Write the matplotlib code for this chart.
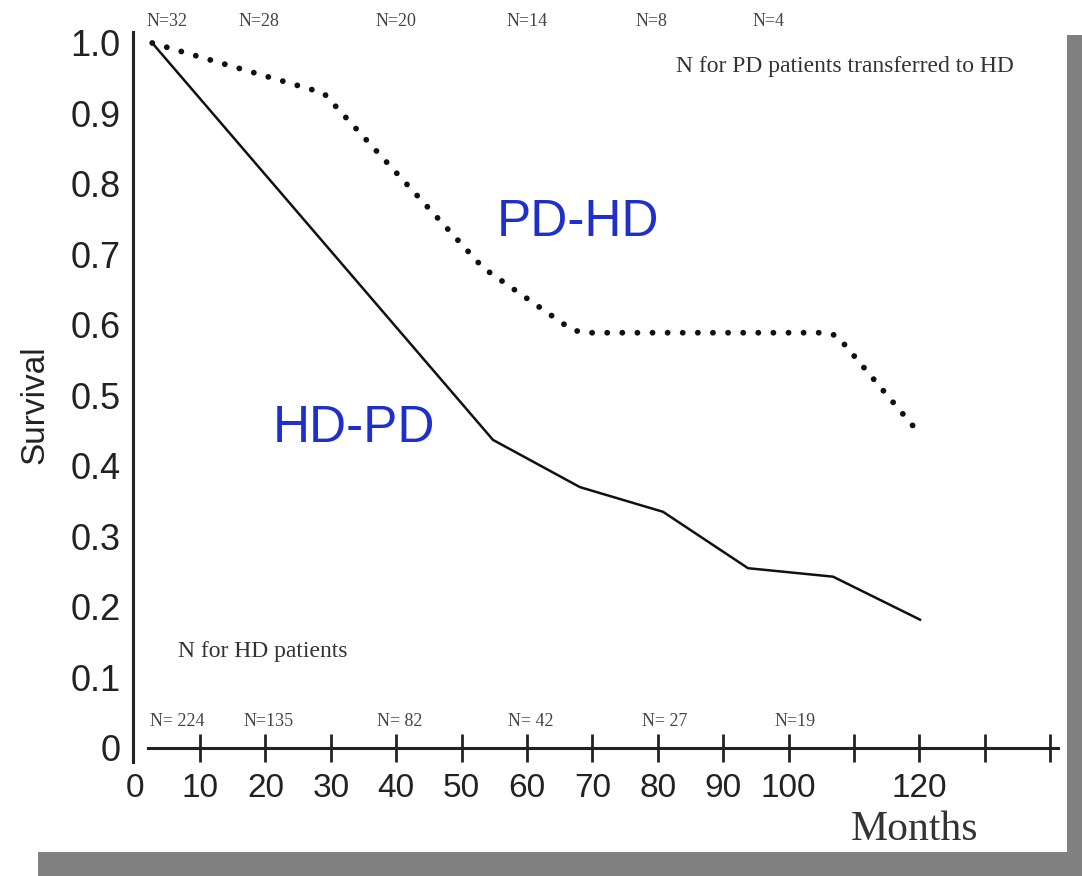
import matplotlib
matplotlib.use("Agg")
import matplotlib.pyplot as plt
from matplotlib.patches import Rectangle

# survival curves
months_hd = [2.7, 54.8, 68.1, 80.8, 93.8, 106.8, 120.1]
surv_hd = [1.0, 0.437, 0.370, 0.335, 0.255, 0.243, 0.182]

months_pd = [2.7, 28.9, 53.3, 66.9, 68.9, 105.3, 107.4, 119.1]
surv_pd = [1.0, 0.929, 0.681, 0.593, 0.589, 0.589, 0.585, 0.456]

# numbers at risk
n_pd_months = [5, 19, 40, 60, 79, 97]
n_pd_labels = ["N=32", "N=28", "N=20", "N=14", "N=8", "N=4"]
n_hd_months = [6.5, 20.5, 40.5, 60.5, 81, 101]
n_hd_labels = ["N= 224", "N=135", "N= 82", "N= 42", "N= 27", "N=19"]

x_ticks = [0, 10, 20, 30, 40, 50, 60, 70, 80, 90, 100, 110, 120, 130, 140]
x_ticklabels = ["0", "10", "20", "30", "40", "50", "60", "70", "80", "90", "100", "", "120", "", ""]
y_ticks = [0, 0.1, 0.2, 0.3, 0.4, 0.5, 0.6, 0.7, 0.8, 0.9, 1.0]
y_ticklabels = ["0", "0.1", "0.2", "0.3", "0.4", "0.5", "0.6", "0.7", "0.8", "0.9", "1.0"]

plt.rcParams["font.family"] = ["Liberation Sans", "DejaVu Sans"]
INK = "#222222"
BLUE = "#1f2fcc"
SERIF = ["Liberation Serif", "DejaVu Serif"]

W, H = 1082, 876
fig = plt.figure(figsize=(W / 100, H / 100), dpi=100, facecolor="white")

# grey drop shadow of the scanned panel
fig.add_artist(Rectangle((1067 / W, 0), 15 / W, 1 - 35 / H, transform=fig.transFigure,
                         facecolor="#808080", edgecolor="none"))
fig.add_artist(Rectangle((38 / W, 0), 1 - 38 / W, 24 / H, transform=fig.transFigure,
                         facecolor="#808080", edgecolor="none"))

ax = fig.add_axes([133 / W, 1 - 762 / H, 925 / W, 730 / H])
ax.set_xlim(-0.245, 141.2)
ax.set_ylim(-0.0199, 1.0156)
ax.patch.set_alpha(0)

ax.plot(months_hd, surv_hd, color="#111111", lw=1.8)
ax.plot(months_pd, surv_pd, color="#111111", lw=4.2,
        linestyle=(0, (0.01, 2.58)), dash_capstyle="round")

for s in ["top", "right"]:
    ax.spines[s].set_visible(False)
ax.spines["left"].set_linewidth(2.2)
ax.spines["left"].set_color(INK)
ax.spines["bottom"].set_position(("data", 0))
ax.spines["bottom"].set_bounds(2.0, 141.2)
ax.spines["bottom"].set_linewidth(2.2)
ax.spines["bottom"].set_color(INK)

ax.set_xticks(x_ticks)
ax.set_xticklabels(x_ticklabels)
ax.tick_params(axis="x", direction="inout", length=20, width=2, pad=8,
               labelsize=24, labelcolor=INK, color=INK)
ax.xaxis.get_major_ticks()[0].tick1line.set_visible(False)

ax.set_yticks(y_ticks)
ax.set_yticklabels(y_ticklabels)
ax.tick_params(axis="y", length=0, pad=9, labelsize=26, labelcolor=INK)

for m, lab in zip(n_pd_months, n_pd_labels):
    ax.text(m, 1.03, lab, ha="center", va="center", fontsize=13,
            family=SERIF, color="#444444")
for m, lab in zip(n_hd_months, n_hd_labels):
    ax.text(m, 0.037, lab, ha="center", va="center", fontsize=13,
            family=SERIF, color="#444444")

ax.text(108.6, 0.966, "N for PD patients transferred to HD", ha="center", va="center",
        fontsize=17, family=SERIF, color="#333333")
ax.text(19.6, 0.137, "N for HD patients", ha="center", va="center",
        fontsize=17, family=SERIF, color="#333333")

ax.text(67.8, 0.746, "PD-HD", ha="center", va="center", fontsize=37, color=BLUE)
ax.text(33.5, 0.4525, "HD-PD", ha="center", va="center", fontsize=37, color=BLUE)

ax.text(119.3, -0.116, "Months", ha="center", va="center", fontsize=30,
        family=SERIF, color="#333333")
fig.text(35 / W, 1 - 405 / H, "Survival", rotation=90, ha="center", va="center",
         fontsize=24, color=INK)

fig.savefig("out.png", dpi=100)
